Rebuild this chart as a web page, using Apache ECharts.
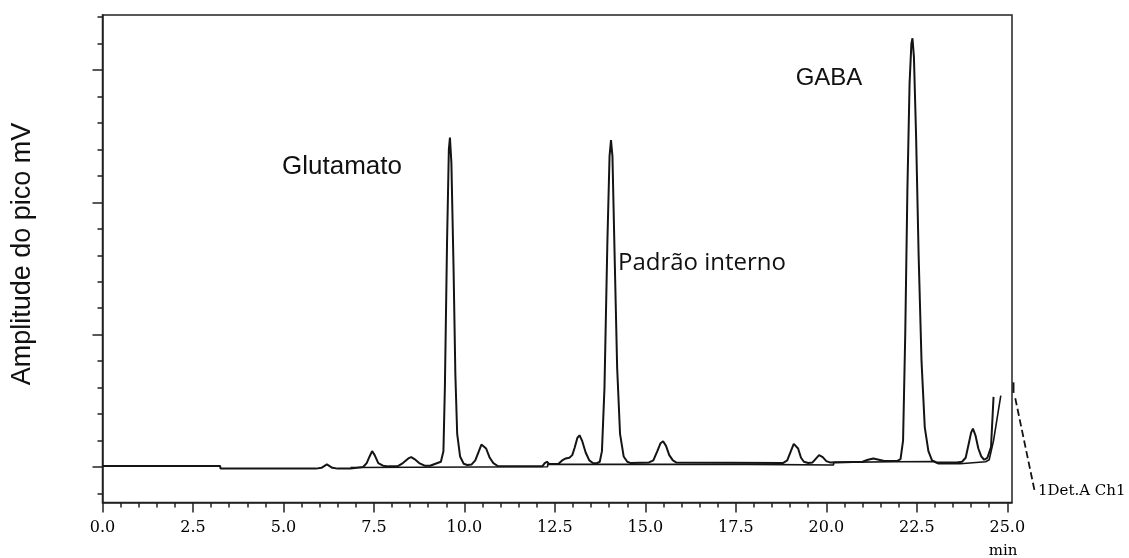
<!DOCTYPE html>
<html><head><meta charset="utf-8">
<script src="https://cdn.jsdelivr.net/npm/echarts@6/dist/echarts.min.js"></script>
<style>html,body{margin:0;padding:0;background:#fff}#c{width:1129px;height:558px}</style>
</head><body><div id="c"></div>
<script>
// Chromatogram trace: [time (min), amplitude]
const signal = [
 [0, 0.8], [3.25, 0.8], [3.26, -1.2],
 [5.9, -1.2], [6.05, -0.6], [6.2, 2], [6.35, -0.6], [6.5, -1.2], [6.85, -1.2], [6.9, 0],
 [7.2, 0], [7.3, 3], [7.38, 8], [7.45, 12], [7.52, 9], [7.62, 3], [7.75, 1], [7.9, 0.5],
 [8.15, 0.5], [8.3, 3], [8.45, 6.5], [8.53, 7.5], [8.62, 6], [8.75, 3], [8.9, 1], [9.05, 1],
 [9.2, 2.5], [9.35, 4], [9.42, 12], [9.46, 60], [9.52, 170], [9.57, 240], [9.6, 249], [9.64, 230], [9.7, 150], [9.75, 70], [9.8, 25], [9.88, 8], [9.98, 2.5], [10.08, 1.5],
 [10.2, 2], [10.3, 5], [10.4, 12], [10.47, 17], [10.52, 18], [10.6, 14], [10.7, 7], [10.8, 3], [10.92, 0.8],
 [12.15, 0.5], [12.22, 3], [12.28, 4], [12.34, 2.3],
 [12.6, 2.5], [12.7, 5], [12.8, 6.5], [12.9, 7], [12.98, 9], [13.05, 15], [13.12, 22], [13.18, 24], [13.25, 20], [13.35, 11], [13.45, 5], [13.55, 3], [13.65, 2.8],
 [13.74, 4], [13.8, 12], [13.87, 60], [13.95, 170], [14.01, 235], [14.05, 247], [14.09, 235], [14.15, 160], [14.22, 75], [14.3, 25], [14.4, 8], [14.5, 4], [14.6, 3],
 [15.1, 3.5], [15.22, 5], [15.33, 12], [15.42, 18], [15.49, 19.5], [15.57, 16], [15.66, 9], [15.76, 5], [15.85, 3.5],
 [18.8, 3], [18.92, 5], [19.02, 12], [19.1, 17.5], [19.15, 18], [19.22, 14], [19.3, 7], [19.38, 4], [19.5, 3],
 [19.62, 3.5], [19.7, 6], [19.8, 9], [19.9, 7.5], [20.0, 4.5], [20.1, 3.5],
 [21.0, 4], [21.15, 5.5], [21.3, 6.5], [21.45, 5.5], [21.6, 4.5],
 [21.95, 4.5], [22.05, 6], [22.12, 20], [22.18, 100], [22.24, 210], [22.3, 290], [22.35, 320], [22.38, 324], [22.42, 310], [22.48, 250], [22.55, 160], [22.63, 80], [22.72, 30], [22.82, 12], [22.92, 5], [23.05, 3.5], [23.6, 3.5],
 [23.75, 4], [23.85, 7], [23.93, 17], [24.0, 26], [24.05, 29], [24.12, 24], [24.2, 14], [24.28, 8], [24.36, 5.5],
 [24.45, 7], [24.55, 15], [24.62, 53]
];
// Integration baseline drawn under the peaks
const baseline = [
 [6.85, -0.3], [12.3, 0.2], [12.3, 2], [17.8, 2], [17.8, 1.5], [20.2, 1.5], [20.2, 3.5],
 [21.9, 4], [22.95, 4.2], [23.1, 2.5], [23.7, 2.5], [24.4, 4], [24.5, 5.5], [24.62, 20], [24.82, 54]
];
// Detector trace leaving the plot (solid stub, then dashed leader)
const exitSolid = [[25.17, 64], [25.17, 56]];
const exitDashed = [[25.22, 52], [25.75, -17.4]];

const xMajorTicks = [0, 2.5, 5, 7.5, 10, 12.5, 15, 17.5, 20, 22.5, 25];
const xMinorTicks = [0.5,1,1.5,2,3,3.5,4,4.5,5.5,6,6.5,7,8,8.5,9,9.5,10.5,11,11.5,12,13,13.5,14,14.5,15.5,16,16.5,17,18,18.5,19,19.5,20.5,21,21.5,22,23,23.5,24,24.5];
const yMajorTicks = [0, 100, 200, 300];
const yMinorTicks = [-20, 20, 40, 60, 80, 120, 140, 160, 180, 220, 240, 260, 280, 320, 340];

const peakNames = ['Glutamato', 'Padrão interno', 'GABA'];
const yTitle = 'Amplitude do pico mV';
const xUnit = 'min';
const channelName = '1Det.A Ch1';

const X_MIN = 0, X_MAX = 25.13, Y_MIN = -26.8, Y_MAX = 341.6;
const ink = '#141414';
const serif = '"DejaVu Serif", serif';

// main plot geometry
const G_LEFT = 102.5, G_RIGHT_EDGE = 1012, G_TOP = 15, G_BOTTOM = 55.5;
const pxPerMin = (G_RIGHT_EDGE - G_LEFT) / (X_MAX - X_MIN);
const EXT_W = 30; // side strip to the right of the frame for the leader line
const X2_MAX = X_MAX + EXT_W / pxPerMin;

const chart = echarts.init(document.getElementById('c'), null, {renderer: 'canvas'});
const xBase = {type: 'value', min: X_MIN, max: X_MAX, position: 'bottom', splitLine: {show: false}, gridIndex: 0};
const yBase = {type: 'value', min: Y_MIN, max: Y_MAX, position: 'left', splitLine: {show: false}, gridIndex: 0};
const hidden = {show: false};
chart.setOption({
  animation: false,
  backgroundColor: '#fff',
  grid: [
    {left: G_LEFT, right: 1129 - G_RIGHT_EDGE, top: G_TOP, bottom: G_BOTTOM, show: true, borderColor: '#222', borderWidth: 1.5, backgroundColor: 'transparent'},
    {left: G_RIGHT_EDGE, width: EXT_W, top: G_TOP, bottom: G_BOTTOM, show: false}
  ],
  xAxis: [
    Object.assign({}, xBase, {
      axisLine: {show: true, onZero: false, lineStyle: {color: '#222', width: 1.5}},
      axisTick: {show: true, length: 10, customValues: xMajorTicks, lineStyle: {color: '#222', width: 1.5}},
      axisLabel: {show: true, customValues: xMajorTicks, margin: 17, color: '#000', fontFamily: serif, fontSize: 16,
                  formatter: v => Number(v).toFixed(1)}
    }),
    Object.assign({}, xBase, {
      axisLine: {show: false, onZero: false},
      axisTick: {show: true, length: 5, customValues: xMinorTicks, lineStyle: {color: '#222', width: 1.5}},
      axisLabel: {show: false}
    }),
    {type: 'value', gridIndex: 1, min: X_MAX, max: X2_MAX, show: false, axisLine: hidden, axisTick: hidden, axisLabel: hidden, splitLine: hidden}
  ],
  yAxis: [
    Object.assign({}, yBase, {
      axisLine: {show: true, onZero: false, lineStyle: {color: '#222', width: 1.5}},
      axisTick: {show: true, length: 10, customValues: yMajorTicks, lineStyle: {color: '#222', width: 1.5}},
      axisLabel: {show: false}
    }),
    Object.assign({}, yBase, {
      axisLine: {show: false, onZero: false},
      axisTick: {show: true, length: 5, customValues: yMinorTicks, lineStyle: {color: '#222', width: 1.5}},
      axisLabel: {show: false}
    }),
    {type: 'value', gridIndex: 1, min: Y_MIN, max: Y_MAX, show: false, axisLine: hidden, axisTick: hidden, axisLabel: hidden, splitLine: hidden}
  ],
  series: [
    {type: 'line', data: baseline, symbol: 'none', lineStyle: {color: ink, width: 1.6}, z: 3},
    {type: 'line', data: signal, symbol: 'none', lineStyle: {color: ink, width: 2}, z: 4},
    {type: 'line', xAxisIndex: 2, yAxisIndex: 2, data: exitSolid, symbol: 'none', clip: false, lineStyle: {color: ink, width: 2}},
    {type: 'line', xAxisIndex: 2, yAxisIndex: 2, data: exitDashed, symbol: 'none', clip: false,
     lineStyle: {color: ink, width: 1.8, type: 'dashed'}}
  ],
  graphic: [
    {type: 'text', x: 23, y: 254, rotation: Math.PI / 2,
     style: {text: yTitle, fill: '#111', font: '27px "Liberation Sans", Arial, sans-serif', align: 'center', verticalAlign: 'middle'}},
    {type: 'text', x: 342, y: 167,
     style: {text: peakNames[0], fill: '#111', font: '26px "Liberation Sans", Arial, sans-serif', align: 'center', verticalAlign: 'middle'}},
    {type: 'text', x: 702, y: 263,
     style: {text: peakNames[1], fill: '#111', font: '24px "Open Sans", "Noto Sans", sans-serif', align: 'center', verticalAlign: 'middle'}},
    {type: 'text', x: 829, y: 78,
     style: {text: peakNames[2], fill: '#111', font: '24px "Liberation Sans", Arial, sans-serif', align: 'center', verticalAlign: 'middle'}},
    {type: 'text', x: 1003, y: 551,
     style: {text: xUnit, fill: '#000', font: '15px "DejaVu Serif", serif', align: 'center', verticalAlign: 'middle'}},
    {type: 'text', x: 1038, y: 491,
     style: {text: channelName, fill: '#000', font: '15px "DejaVu Serif", serif', align: 'left', verticalAlign: 'middle'}}
  ]
});
</script></body></html>
